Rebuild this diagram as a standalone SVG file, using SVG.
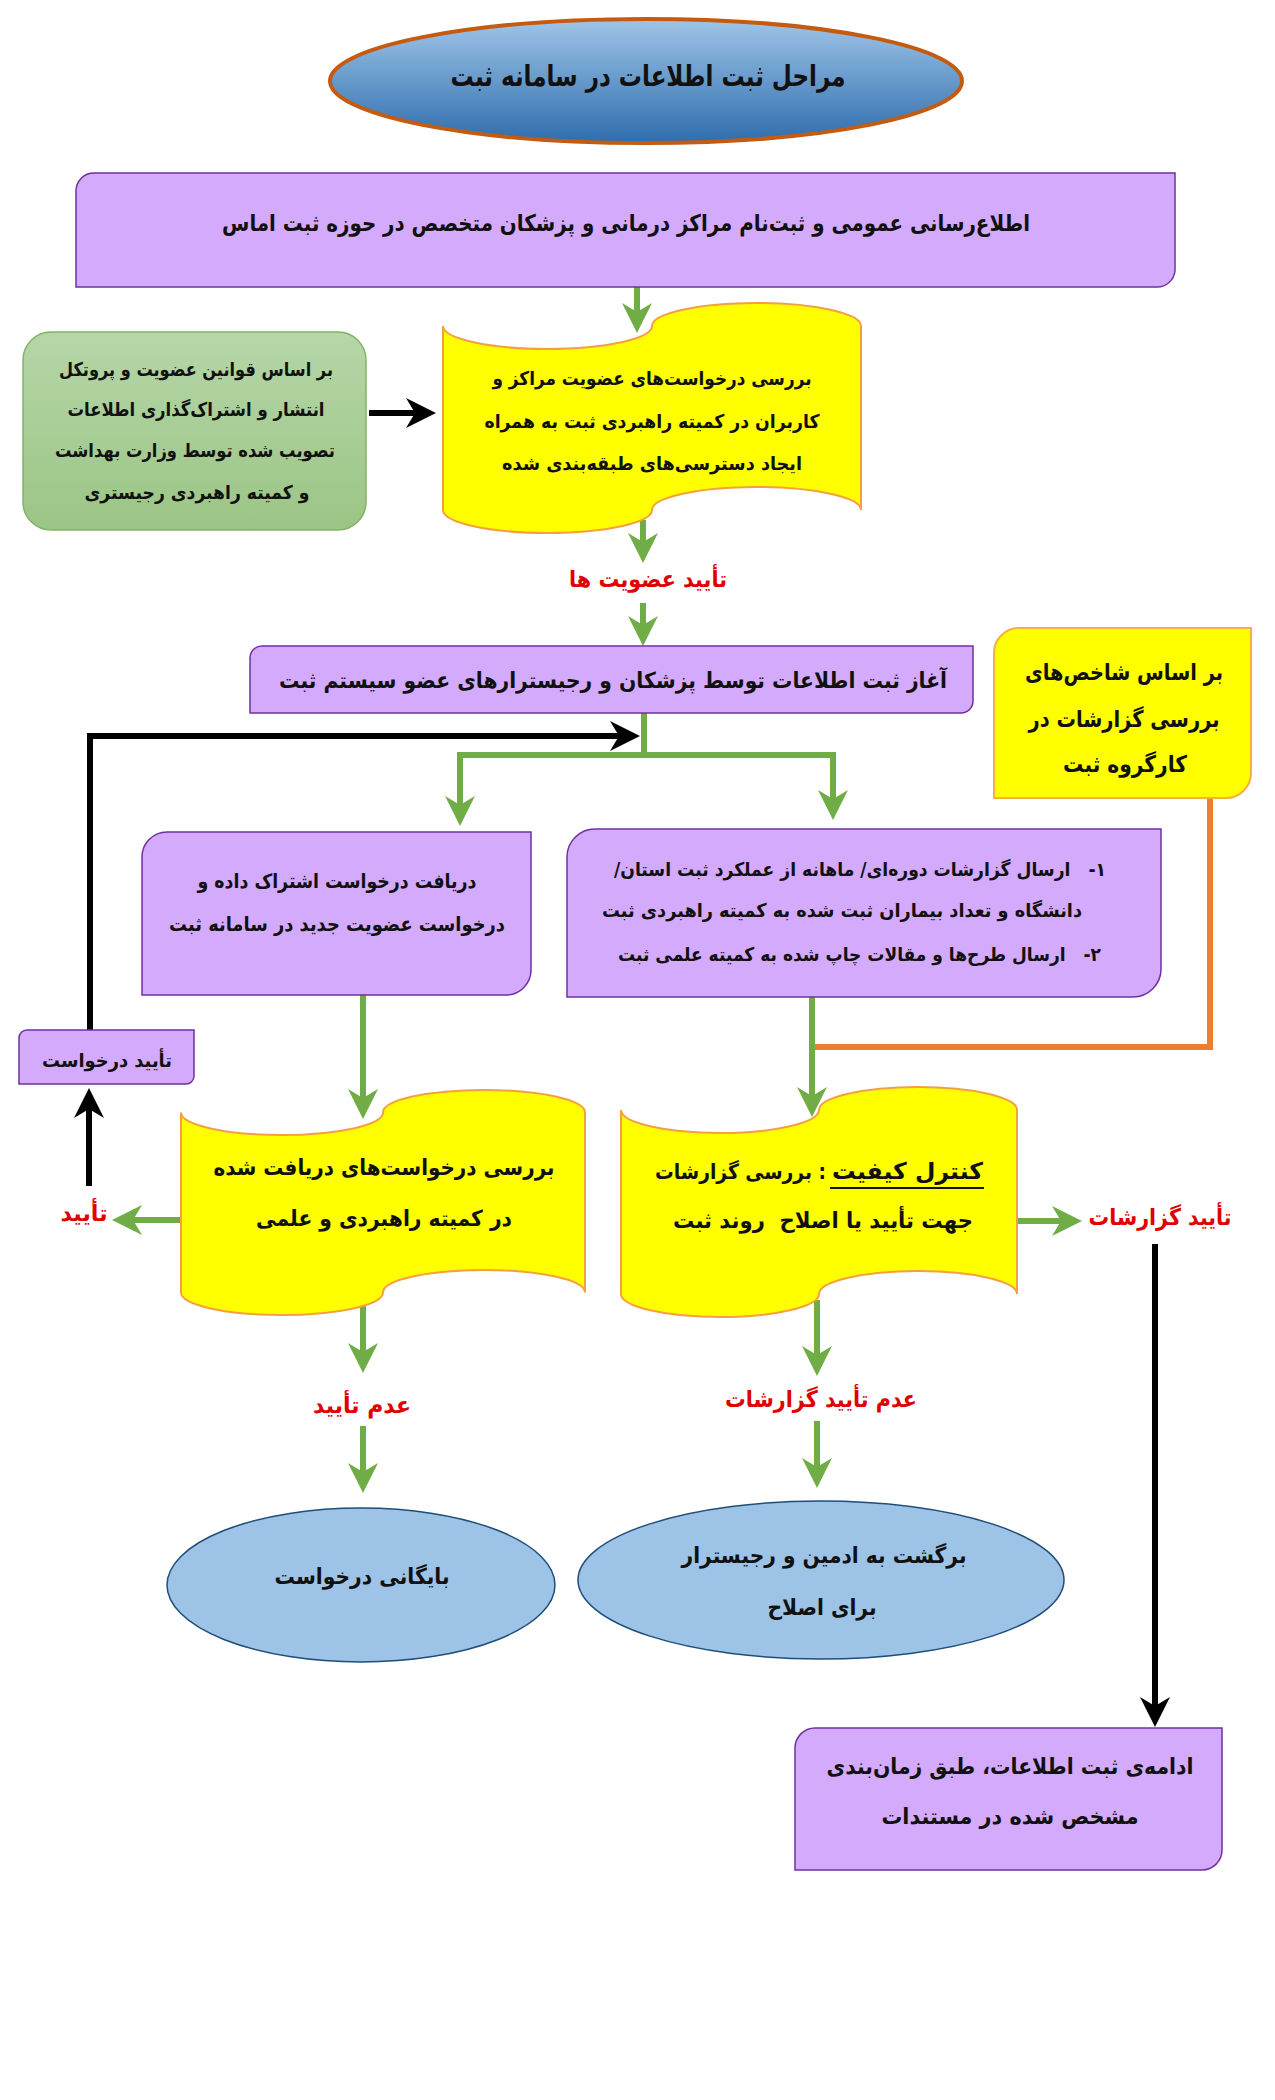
<svg xmlns="http://www.w3.org/2000/svg" width="1275" height="2100" viewBox="0 0 1275 2100">
<defs>
<style>
.t{font-family:"DejaVu Sans",sans-serif;font-weight:bold;fill:#111;direction:rtl;}
.c{text-anchor:middle;}
.r{fill:#e00000;}
.pur{fill:#d4aafc;stroke:#7030a0;stroke-width:1.5;}
.yel{fill:#ffff00;stroke:#f4a040;stroke-width:2;}
.g{stroke:#70ad47;stroke-width:6;fill:none;}
.k{stroke:#000;stroke-width:6;fill:none;}
.o{stroke:#ed7d31;stroke-width:6;fill:none;}
.ell{fill:#9dc3e6;stroke:#1f4e79;stroke-width:1.5;}
</style>
<linearGradient id="gt" x1="0" y1="0" x2="0" y2="1">
<stop offset="0" stop-color="#9fc5e8"/>
<stop offset="1" stop-color="#2e6dad"/>
</linearGradient>
<linearGradient id="gg" x1="0" y1="0" x2="0" y2="1">
<stop offset="0" stop-color="#b6d6a8"/>
<stop offset="1" stop-color="#9bc585"/>
</linearGradient>
<marker id="ag" markerUnits="userSpaceOnUse" markerWidth="40" markerHeight="30" refX="20" refY="15" orient="auto" overflow="visible">
<path d="M40,15 L10,0 L19,15 L10,30 Z" fill="#70ad47"/>
</marker>
<marker id="ab" markerUnits="userSpaceOnUse" markerWidth="40" markerHeight="30" refX="20" refY="15" orient="auto" overflow="visible">
<path d="M40,15 L10,0 L19,15 L10,30 Z" fill="#000"/>
</marker>
</defs>
<rect width="1275" height="2100" fill="#fff"/>

<g id="connectors">
<path class="g" d="M637,287 V313" marker-end="url(#ag)"/>
<path class="g" d="M643,520 V543" marker-end="url(#ag)"/>
<path class="g" d="M643,603 V626" marker-end="url(#ag)"/>
<path class="g" d="M644,713 V755 H460 V806" marker-end="url(#ag)"/>
<path class="g" d="M644,755 H833 V800" marker-end="url(#ag)"/>
<path class="k" d="M369,413 H416" marker-end="url(#ab)"/>
<path class="k" d="M90,1030 V736 H620" marker-end="url(#ab)"/>
<path class="k" d="M89,1186 V1108" marker-end="url(#ab)"/>
<path class="g" d="M363,995 V1099" marker-end="url(#ag)"/>
<path class="g" d="M181,1220 H132" marker-end="url(#ag)"/>
<path class="g" d="M363,1300 V1353" marker-end="url(#ag)"/>
<path class="g" d="M363,1426 V1473" marker-end="url(#ag)"/>
<path class="g" d="M812,997 V1097" marker-end="url(#ag)"/>
<path class="o" d="M1210,798 V1047 H815"/>
<path class="g" d="M1017,1221 H1062" marker-end="url(#ag)"/>
<path class="g" d="M817,1300 V1356" marker-end="url(#ag)"/>
<path class="g" d="M817,1421 V1468" marker-end="url(#ag)"/>
<path class="k" d="M1155,1244 V1707" marker-end="url(#ab)"/>
</g>

<g id="title">
<ellipse cx="646" cy="81" rx="316" ry="62" fill="url(#gt)" stroke="#c55a11" stroke-width="4"/>
<text class="t c" x="648" y="86" font-size="29" textLength="395" lengthAdjust="spacingAndGlyphs">مراحل ثبت اطلاعات در سامانه ثبت</text>
</g>

<g id="n1">
<path class="pur" d="M94,173 H1175 V271 A18,18 0 0 1 1157,287 H76 V191 A18,18 0 0 1 94,173 Z"/>
<text class="t c" x="626" y="231" font-size="23" textLength="808" lengthAdjust="spacingAndGlyphs">اطلاع‌رسانی عمومی و ثبت‌نام مراکز درمانی و پزشکان متخصص در حوزه ثبت اماس</text>
</g>

<g id="n2">
<rect x="23" y="332" width="343" height="198" rx="28" fill="url(#gg)" stroke="#82b366" stroke-width="1.5"/>
<text class="t c" x="196" y="376" font-size="19" textLength="274" lengthAdjust="spacingAndGlyphs">بر اساس قوانین عضویت و پروتکل</text>
<text class="t c" x="196" y="416" font-size="19" textLength="257" lengthAdjust="spacingAndGlyphs">انتشار و اشتراک‌گذاری اطلاعات</text>
<text class="t c" x="195" y="457" font-size="19" textLength="280" lengthAdjust="spacingAndGlyphs">تصویب شده توسط وزارت بهداشت</text>
<text class="t c" x="197" y="499" font-size="19" textLength="225" lengthAdjust="spacingAndGlyphs">و کمیته راهبردی رجیستری</text>
</g>

<g id="n3">
<path class="yel" d="M443,326 A104.5,23 0 0 0 652,326 A104.5,23 0 0 1 861,326 V510 A104.5,23 0 0 0 652,510 A104.5,23 0 0 1 443,510 Z"/>
<text class="t c" x="652" y="385" font-size="19" textLength="319" lengthAdjust="spacingAndGlyphs">بررسی درخواست‌های عضویت مراکز و</text>
<text class="t c" x="652" y="428" font-size="19" textLength="335" lengthAdjust="spacingAndGlyphs">کاربران در کمیته راهبردی ثبت به همراه</text>
<text class="t c" x="652" y="470" font-size="19" textLength="300" lengthAdjust="spacingAndGlyphs">ایجاد دسترسی‌های طبقه‌بندی شده</text>
</g>

<g id="l1">
<text class="t c r" x="648" y="587" font-size="23" textLength="158" lengthAdjust="spacingAndGlyphs">تأیید عضویت ها</text>
</g>

<g id="n4">
<path class="pur" d="M262,646 H973 V701 A12,12 0 0 1 961,713 H250 V658 A12,12 0 0 1 262,646 Z"/>
<text class="t c" x="613" y="688" font-size="22" textLength="668" lengthAdjust="spacingAndGlyphs">آغاز ثبت اطلاعات توسط پزشکان و رجیسترارهای عضو سیستم ثبت</text>
</g>

<g id="n5">
<path d="M1019,628 H1251 V773 A25,25 0 0 1 1226,798 H994 V653 A25,25 0 0 1 1019,628 Z" fill="#ffff00" stroke="#f4b040" stroke-width="2"/>
<text class="t c" x="1124" y="680" font-size="23" textLength="198" lengthAdjust="spacingAndGlyphs">بر اساس شاخص‌های</text>
<text class="t c" x="1124" y="727" font-size="23" textLength="191" lengthAdjust="spacingAndGlyphs">بررسی گزارشات در</text>
<text class="t c" x="1125" y="772" font-size="23" textLength="124" lengthAdjust="spacingAndGlyphs">کارگروه ثبت</text>
</g>

<g id="n6">
<path class="pur" d="M167,832 H531 V970 A25,25 0 0 1 506,995 H142 V857 A25,25 0 0 1 167,832 Z"/>
<text class="t c" x="337" y="888" font-size="20" textLength="279" lengthAdjust="spacingAndGlyphs">دریافت درخواست اشتراک داده و</text>
<text class="t c" x="337" y="931" font-size="20" textLength="336" lengthAdjust="spacingAndGlyphs">درخواست عضویت جدید در سامانه ثبت</text>
</g>

<g id="n7">
<path class="pur" d="M595,829 H1161 V969 A28,28 0 0 1 1133,997 H567 V857 A28,28 0 0 1 595,829 Z"/>
<text class="t" x="1106" y="876" font-size="19" text-anchor="start" xml:space="preserve" textLength="492" lengthAdjust="spacingAndGlyphs">۱-   ارسال گزارشات دوره‌ای/ ماهانه از عملکرد ثبت استان/</text>
<text class="t" x="1082" y="917" font-size="19" text-anchor="start" textLength="480" lengthAdjust="spacingAndGlyphs">دانشگاه و تعداد بیماران ثبت شده به کمیته راهبردی ثبت</text>
<text class="t" x="1101" y="961" font-size="19" text-anchor="start" xml:space="preserve" textLength="483" lengthAdjust="spacingAndGlyphs">۲-   ارسال طرح‌ها و مقالات چاپ شده به کمیته علمی ثبت</text>
</g>

<g id="n8">
<path class="pur" d="M27,1030 H194 V1076 A8,8 0 0 1 186,1084 H19 V1038 A8,8 0 0 1 27,1030 Z"/>
<text class="t c" x="107" y="1067" font-size="19" textLength="130" lengthAdjust="spacingAndGlyphs">تأیید درخواست</text>
</g>

<g id="l2">
<text class="t c r" x="84" y="1221" font-size="23" textLength="47" lengthAdjust="spacingAndGlyphs">تأیید</text>
</g>

<g id="n9">
<path class="yel" d="M181,1112.5 A101,22.5 0 0 0 383,1112.5 A101,22.5 0 0 1 585,1112.5 V1292.5 A101,22.5 0 0 0 383,1292.5 A101,22.5 0 0 1 181,1292.5 Z"/>
<text class="t c" x="384" y="1175" font-size="22" textLength="341" lengthAdjust="spacingAndGlyphs">بررسی درخواست‌های دریافت شده</text>
<text class="t c" x="384" y="1226" font-size="22" textLength="256" lengthAdjust="spacingAndGlyphs">در کمیته راهبردی و علمی</text>
</g>

<g id="n10">
<path class="yel" d="M621,1110 A99,23 0 0 0 819,1110 A99,23 0 0 1 1017,1110 V1294 A99,23 0 0 0 819,1294 A99,23 0 0 1 621,1294 Z"/>
<text class="t" x="983" y="1179" font-size="23" text-anchor="start" textLength="151" lengthAdjust="spacingAndGlyphs">کنترل کیفیت</text>
<line x1="830" y1="1188" x2="984" y2="1188" stroke="#111" stroke-width="2"/>
<text class="t" x="826" y="1179" font-size="21" text-anchor="start" textLength="171" lengthAdjust="spacingAndGlyphs">: بررسی گزارشات</text>
<text class="t c" x="823" y="1228" font-size="22" xml:space="preserve" textLength="300" lengthAdjust="spacingAndGlyphs">جهت تأیید یا اصلاح  روند ثبت</text>
</g>

<g id="l3">
<text class="t c r" x="1160" y="1225" font-size="23" textLength="143" lengthAdjust="spacingAndGlyphs">تأیید گزارشات</text>
</g>

<g id="l4">
<text class="t c r" x="362" y="1413" font-size="23" textLength="98" lengthAdjust="spacingAndGlyphs">عدم تأیید</text>
</g>

<g id="l5">
<text class="t c r" x="821" y="1407" font-size="23" textLength="192" lengthAdjust="spacingAndGlyphs">عدم تأیید گزارشات</text>
</g>

<g id="n11">
<ellipse class="ell" cx="361" cy="1585" rx="194" ry="77"/>
<text class="t c" x="362" y="1584" font-size="22" textLength="175" lengthAdjust="spacingAndGlyphs">بایگانی درخواست</text>
</g>

<g id="n12">
<ellipse class="ell" cx="821" cy="1580" rx="243" ry="79"/>
<text class="t c" x="824" y="1563" font-size="22" textLength="285" lengthAdjust="spacingAndGlyphs">برگشت به ادمین و رجیسترار</text>
<text class="t c" x="822" y="1615" font-size="22" textLength="109" lengthAdjust="spacingAndGlyphs">برای اصلاح</text>
</g>

<g id="n13">
<path class="pur" d="M815,1728 H1222 V1850 A20,20 0 0 1 1202,1870 H795 V1748 A20,20 0 0 1 815,1728 Z"/>
<text class="t c" x="1010" y="1774" font-size="22" textLength="367" lengthAdjust="spacingAndGlyphs">ادامه‌ی ثبت اطلاعات، طبق زمان‌بندی</text>
<text class="t c" x="1010" y="1824" font-size="22" textLength="257" lengthAdjust="spacingAndGlyphs">مشخص شده در مستندات</text>
</g>
</svg>
